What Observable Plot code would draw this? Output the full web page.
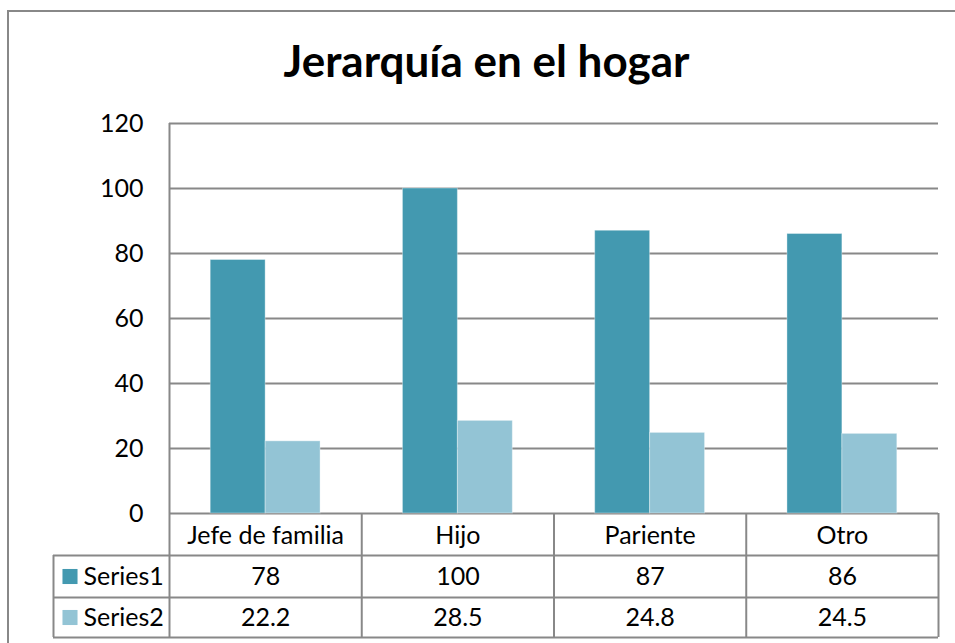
<!DOCTYPE html>
<html>
<head>
<meta charset="utf-8">
<script src="https://cdn.jsdelivr.net/npm/d3@7"></script>
<script src="https://cdn.jsdelivr.net/npm/@observablehq/plot@0.6"></script>
<style>
  html, body { margin: 0; padding: 0; background: #fff; overflow: hidden; width: 955px; height: 643px; }
  #outer { position: absolute; left: 7px; top: 10px; width: 2000px; height: 2000px;
           border-left: 2px solid #888; border-top: 2px solid #888; box-sizing: border-box; }
  #title { position: absolute; left: 0; width: 973px; top: 38px; text-align: center;
           font-family: Lato, sans-serif; font-weight: bold; font-size: 44px; line-height: 1; color: #000; }
  #chart { position: absolute; left: 0; top: 0; }
</style>
</head>
<body>
<div id="outer"></div>
<div id="chart"></div>
<div id="title">Jerarquía en el hogar</div>
<script>
const categories = ["Jefe de familia", "Hijo", "Pariente", "Otro"];
const series = ["Series1", "Series2"];
const series1 = [78, 100, 87, 86];
const series2 = [22.2, 28.5, 24.8, 24.5];
const yTicks = [0, 20, 40, 60, 80, 100, 120];
const colors = ["#4399b0", "#93c4d5"];

const values = [series1, series2];
const rows = categories.flatMap((c, i) => series.map((s, j) => ({cat: c, i, s, j, v: values[j][i]})));

// layout
const W = 955, H = 643;
const mTop = 123, mBottom = 130, mLeft = 169, mRight = 17;
const plotH = H - mTop - mBottom;
const yMax = 120;
const gapWidth = 1.5;                       // Excel gap width 150%
const barW = 1 / (series.length + gapWidth);
const outerPad = gapWidth * barW / 2;
const catPx = (W - mLeft - mRight) / categories.length;
const px2y = px => -px * yMax / plotH;      // pixels below baseline -> y units
const px2x = px => px / catPx;              // pixels from plot left -> x units

const headerBottom = px2y(42), row1Bottom = px2y(84), row2Bottom = px2y(124);
const headerMid = px2y(22), rowMid = [px2y(63), px2y(104)];
const legendLeft = px2x(53 - mLeft);
const legendSwatch = px2x(69.5 - mLeft);
const legendText = px2x(83 - mLeft);
const grid = "#888";

const hLines = [
  {y: headerBottom, x1: legendLeft, x2: categories.length},
  {y: row1Bottom, x1: legendLeft, x2: categories.length},
  {y: row2Bottom, x1: legendLeft, x2: categories.length}
];
const vLines = d3.range(categories.length + 1);

const plot = Plot.plot({
  width: W, height: H,
  marginTop: mTop, marginBottom: mBottom, marginLeft: mLeft, marginRight: mRight,
  style: {fontFamily: "Lato, sans-serif", fontSize: "25px", color: "#000", background: "transparent"},
  x: {domain: [0, categories.length], axis: null},
  y: {domain: [0, yMax], axis: null},
  color: {domain: series, range: colors},
  marks: [
    Plot.ruleY(yTicks, {stroke: grid, strokeWidth: 2}),
    Plot.rectY(rows, {
      x1: d => d.i + outerPad + d.j * barW,
      x2: d => d.i + outerPad + (d.j + 1) * barW,
      y1: 0, y2: "v", fill: "s", stroke: "#fff", strokeOpacity: 0.35, strokeWidth: 1
    }),
    Plot.ruleX([0], {y1: 0, y2: yMax, stroke: grid, strokeWidth: 2}),
    Plot.ruleX(vLines, {y1: 0, y2: row2Bottom, stroke: grid, strokeWidth: 2}),
    Plot.ruleX([legendLeft], {y1: headerBottom, y2: row2Bottom, stroke: grid, strokeWidth: 2}),
    Plot.ruleY(hLines, {y: "y", x1: "x1", x2: "x2", stroke: grid, strokeWidth: 2}),
    Plot.axisY(yTicks, {tickSize: 0, tickPadding: 26, fontSize: 25, label: null, fill: "#000"}),
    Plot.text(categories, {x: (d, i) => i + 0.5, y: headerMid, text: d => d, fontSize: 25, fill: "#000"}),
    Plot.text(rows, {x: d => d.i + 0.5, y: d => rowMid[d.j], text: d => String(d.v), fontSize: 25, fill: "#000"}),
    Plot.dot(series, {x: legendSwatch, y: (d, j) => rowMid[j], symbol: "square", r: 8.5, fill: d => d}),
    Plot.text(series, {x: legendText, y: (d, j) => rowMid[j], text: d => d, textAnchor: "start", fontSize: 25, fill: "#000"})
  ]
});
document.getElementById("chart").appendChild(plot);
</script>
</body>
</html>
